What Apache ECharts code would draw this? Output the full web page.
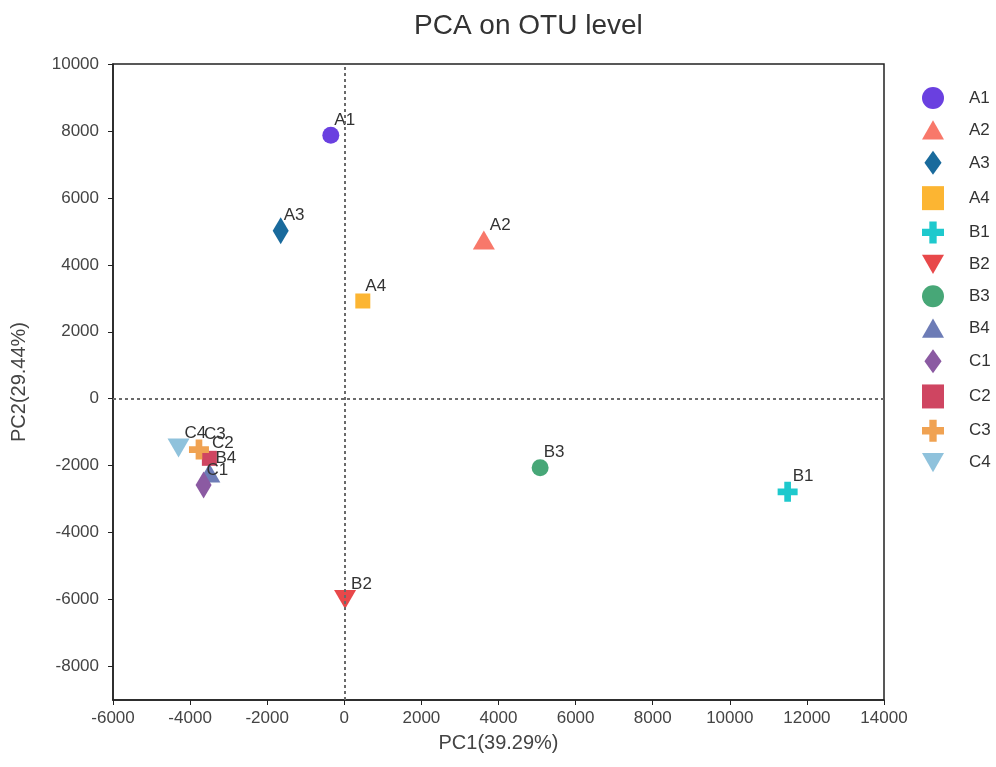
<!DOCTYPE html>
<html>
<head>
<meta charset="utf-8">
<script src="https://cdn.jsdelivr.net/npm/echarts@6/dist/echarts.min.js"></script>
<style>
  html, body { margin: 0; padding: 0; background: #fff; }
  #canvas { width: 996px; height: 767px; }
</style>
</head>
<body>
<div id="canvas"></div>
<script>
// sample names and PCA coordinates
const samples = ["A1", "A2", "A3", "A4", "B1", "B2", "B3", "B4", "C1", "C2", "C3", "C4"];
const pc1 = [-350, 3620, -1650, 480, 11500, 20, 5080, -3500, -3650, -3500, -3770, -4300];
const pc2 = [7870, 4740, 5020, 2920, -2780, -6000, -2060, -2220, -2580, -1780, -1520, -1470];
const colors = ["#6a40e0", "#f8786a", "#196a9c", "#fcb532", "#1ec9cd", "#e8484a",
  "#47a777", "#6d7cb6", "#8b5aa2", "#cf4561", "#f0a252", "#8fc2dc"];
const yTicks = [-8000, -6000, -4000, -2000, 0, 2000, 4000, 6000, 8000, 10000];

const PLUS = "path://M1,0H2V1H3V2H2V3H1V2H0V1H1Z";
const TRI_DOWN = "path://M0,0L2,0L1,1.75Z";
const TRI_UP = "path://M1,0L2,1.75L0,1.75Z";
// legend diamond, legend keeps the path's aspect ratio
const DIAMOND_LEG = "path://M10,0L20,14L10,28L0,14Z";
const shapes = ["circle", TRI_UP, "diamond", "rect", PLUS, TRI_DOWN,
  "circle", TRI_UP, "diamond", "rect", PLUS, TRI_DOWN];
const sizes = [17, [22, 19], [16, 27], 15, [20, 20], [22, 19],
  17, [22, 19], [16, 27], 15, [20, 20], [22, 19]];

const myChart = window.echarts.init(document.querySelector("#canvas"));

const series = samples.map((name, i) => ({
  name: name,
  type: "scatter",
  symbol: shapes[i],
  symbolSize: sizes[i],
  itemStyle: { color: colors[i], opacity: 1 },
  label: {
    show: true,
    formatter: "{a}",
    position: "right",
    distance: 5,
    offset: [-10, -15],
    color: "#333",
    fontSize: 17,
    fontFamily: "Liberation Sans"
  },
  data: [[pc1[i], pc2[i]]],
  z: 3
}));

// dotted reference lines at 0
series.push({
  type: "scatter",
  data: [],
  silent: true,
  markLine: {
    silent: true,
    symbol: "none",
    label: { show: false },
    lineStyle: { color: "#6a6a6a", type: [3, 3], width: 2 },
    data: [{ xAxis: 0 }, { yAxis: 0 }]
  },
  z: 1
});

const legendData = samples.map((name, i) =>
  shapes[i] === "diamond" ? { name: name, icon: DIAMOND_LEG } : { name: name });

myChart.setOption({
  animation: false,
  textStyle: { fontFamily: "Liberation Sans" },
  title: {
    text: "PCA on OTU level",
    left: 409,
    top: 7,
    textStyle: { fontSize: 28, fontWeight: "normal", color: "#333", fontFamily: "Liberation Sans" }
  },
  grid: { left: 113, right: 112, top: 64, bottom: 67, show: true, borderColor: "#222", borderWidth: 1.5 },
  legend: {
    orient: "vertical",
    left: 917,
    top: 82,
    itemWidth: 22,
    itemHeight: 24,
    itemGap: 11.3,
    data: legendData,
    textStyle: { fontSize: 17, color: "#333", padding: [0, 0, 0, 20] }
  },
  xAxis: {
    type: "value",
    min: -6000,
    max: 14000,
    interval: 2000,
    name: "PC1(39.29%)",
    nameLocation: "middle",
    nameGap: 33,
    nameTextStyle: { fontSize: 20, color: "#444" },
    axisLine: { show: true, onZero: false, lineStyle: { color: "#222", width: 1.5 } },
    axisTick: { show: true, length: 5, lineStyle: { color: "#222" } },
    axisLabel: { fontSize: 17, color: "#444", margin: 10, formatter: v => String(v) },
    splitLine: { show: false }
  },
  yAxis: {
    type: "value",
    min: -9000,
    max: 10000,
    name: "PC2(29.44%)",
    nameLocation: "middle",
    nameGap: 84,
    nameTextStyle: { fontSize: 20, color: "#444" },
    axisLine: { show: true, onZero: false, lineStyle: { color: "#222", width: 1.5 } },
    axisTick: { show: true, length: 5, customValues: yTicks, lineStyle: { color: "#222" } },
    axisLabel: { fontSize: 17, color: "#444", margin: 14, customValues: yTicks, formatter: v => String(v) },
    splitLine: { show: false }
  },
  series: series
});
</script>
</body>
</html>
